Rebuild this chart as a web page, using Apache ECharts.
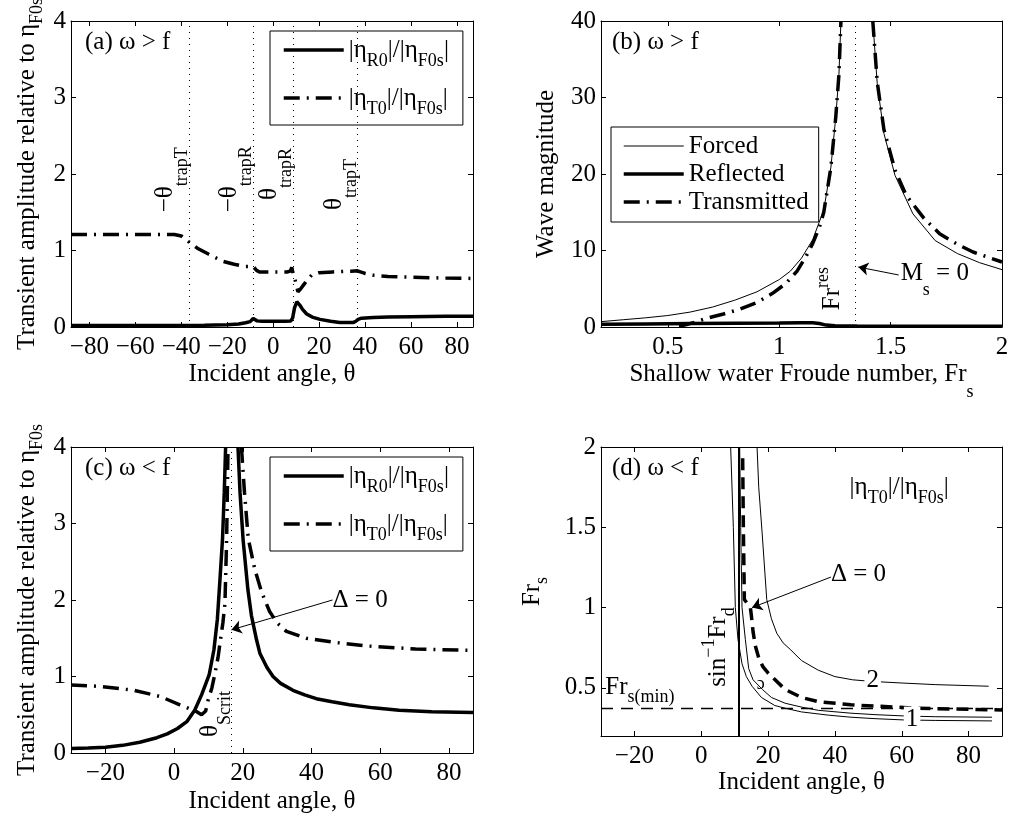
<!DOCTYPE html>
<html><head><meta charset="utf-8">
<script src="https://cdn.jsdelivr.net/npm/echarts@6/dist/echarts.min.js"></script>
<style>html,body{margin:0;padding:0;background:#fff}#c{width:1010px;height:822px}</style>
</head><body><div id="c"></div>
<script>
// ---------- Panel (a) ----------
const aAngR = [-88,-60,-40,-30,-20,-15,-12,-10,-9.2,-8.7,-8.0,-7.0,-5,0,5,7.7,8.5,9.3,10.3,11.5,12.8,14.6,17,20.4,25,29,33,35,36,37,38.5,43.6,50,60,75,87];
const aR    = [0.02,0.02,0.02,0.022,0.03,0.04,0.055,0.07,0.09,0.11,0.09,0.08,0.075,0.075,0.075,0.08,0.12,0.25,0.33,0.29,0.23,0.17,0.13,0.1,0.075,0.06,0.058,0.06,0.075,0.1,0.115,0.125,0.13,0.135,0.14,0.14];
const aAngT = [-88,-60,-43,-40,-37,-33,-28,-22,-17,-12,-10,-9,-8.2,-7.2,-6,0,6,7.5,8.1,8.7,9.6,10.8,12,13.5,15,16.8,20,26,30,34,36.7,38,40,44,50,60,75,87];
const aT    = [1.21,1.21,1.21,1.19,1.12,1.03,0.95,0.86,0.82,0.79,0.79,0.8,0.78,0.74,0.72,0.72,0.72,0.73,0.78,0.7,0.61,0.46,0.5,0.56,0.62,0.68,0.71,0.72,0.725,0.73,0.735,0.72,0.7,0.675,0.66,0.65,0.64,0.635];
const aTrapLines = [-36.7, -8.7, 8.7, 36.7];
const aTrapLabels = ['−θ|trapT', '−θ|trapR', 'θ|trapR', 'θ|trapT'];
const aTrapLabelY = [1.5, 1.5, 1.66, 1.53];
const aXTicks = [-80,-60,-40,-20,0,20,40,60,80];
const aYTicks = [0,1,2,3,4];

// ---------- Panel (b) ----------
const bFrFL = [0.2,0.3,0.4,0.5,0.6,0.7,0.8,0.9,1.0,1.05,1.1,1.15,1.2,1.232,1.254,1.268,1.277];
const bFL   = [0.7,0.95,1.2,1.5,1.95,2.6,3.5,4.6,6.2,7.3,9.0,11.4,15.3,20.9,27.5,33,40];
const bFrFR = [1.42,1.44,1.47,1.52,1.6,1.7,1.8,1.9,2.0];
const bFR   = [40,31.8,25.3,19.8,14.8,11.3,9.6,8.4,7.5];
const bFrTL = [0.55,0.58,0.62,0.67,0.75,0.82,0.9,0.97,1.03,1.08,1.12,1.15,1.18,1.2,1.232,1.254,1.268,1.277];
const bTL   = [0.1,0.3,0.6,1.1,1.7,2.3,3.2,4.4,5.7,7.3,9.2,10.9,13.0,15.0,20.9,27.5,33,40];
const bFrTR = [1.42,1.44,1.47,1.52,1.57,1.65,1.72,1.8,1.87,1.94,2.0];
const bTR   = [40,32,25.8,20.5,17.2,14.2,12.2,10.8,9.8,9.1,8.5];
const bFrRe = [0.2,0.4,0.6,0.8,1.0,1.1,1.15,1.18,1.21,1.25,1.35,1.5,1.75,2.0];
const bRe   = [0.35,0.4,0.45,0.5,0.52,0.55,0.56,0.45,0.25,0.15,0.12,0.11,0.1,0.1];
const bFrRes = 1.34;
const bXTicks = [0.5,1,1.5,2];
const bYTicks = [0,10,20,30,40];

// ---------- Panel (c) ----------
const cAngRL = [-30,-25,-20,-15,-10,-5,-2,1,3.7,6,8,10.2,11.6,12.6,13.4,14.1,14.6,15.0];
const cRL    = [0.06,0.065,0.075,0.1,0.14,0.2,0.25,0.32,0.41,0.56,0.76,1.02,1.35,1.75,2.3,2.8,3.4,4.0];
const cAngRR = [18.6,19.2,20.1,21.5,22.5,24,25,27,28.8,31,34.6,38,41.4,46,51,58,65.5,75,87];
const cRR    = [4.0,3.4,2.78,2.13,1.8,1.48,1.3,1.12,1.0,0.91,0.82,0.76,0.71,0.67,0.63,0.59,0.56,0.54,0.53];
const cAngTL = [-30,-21.4,-11.8,-4.1,1.7,5,6.6,8,9.2,9.9,11.0,11.9,12.8,13.5,14.2,14.8,15.3,15.7];
const cTL    = [0.89,0.87,0.82,0.74,0.63,0.57,0.54,0.5,0.55,0.69,0.85,1.04,1.25,1.48,1.7,1.95,2.8,4.0];
const cAngTR = [19.6,20.5,21.6,23.5,25.5,27.8,30,32.7,38.5,46.2,55.8,70.3,87];
const cTR    = [4.0,3.4,2.8,2.4,2.1,1.85,1.7,1.59,1.5,1.45,1.4,1.36,1.34];
const cScrit = 16.7;
const cXTicks = [-20,0,20,40,60,80];
const cYTicks = [0,1,2,3,4];

// ---------- Panel (d) ----------
const dAng1a = [8.8,9.6,10.2,11.0,12.2,13.5,15.2,18,22,25.1,30,38,44.8,52,60.6,70,87];
const d1a    = [2.0,1.5,1.0,0.8,0.65,0.57,0.51,0.44,0.39,0.373,0.35,0.33,0.317,0.308,0.30,0.297,0.294];
const dAng1b = [11.5,11.8,12.2,13.2,14.2,15.5,18.3,21,25.1,30,35,44.8,52,60.6,70,87];
const d1b    = [2.0,1.5,1.0,0.8,0.62,0.55,0.49,0.44,0.404,0.38,0.36,0.342,0.333,0.325,0.32,0.317];
const dAng2  = [16.7,17.2,18.2,19.6,21,22.6,24.5,26.6,30,35,40,45.3,51,60.1,70,86];
const d2     = [2.0,1.75,1.47,1.05,0.93,0.84,0.78,0.74,0.67,0.61,0.57,0.55,0.54,0.53,0.52,0.51];
const dAngD  = [12.4,12.6,12.9,14.7,15.0,15.5,16.2,17.3,18.5,20.1,25.1,30,35,44.8,64.6,90];
const dD     = [1.93,1.5,1.05,1.0,0.95,0.85,0.76,0.68,0.63,0.59,0.49,0.44,0.414,0.394,0.373,0.362];
const dThetaD = 11.1;
const dFrMin = 0.367;
const dXTicks = [-20,0,20,40,60,80];
const dYTicks = [0.5,1,1.5,2];

// ---------- helpers ----------
const FONT = 'Liberation Serif';
const FS = 25, SFS = 18;
const zip = (xs, ys) => xs.map((x, i) => [x, ys[i]]);
const fmt = v => (v < 0 ? '−' + Math.abs(v) : String(v));
function richE(P) {
  return {
    n: {fontFamily: FONT, fontSize: FS, color: '#000'},
    s: {fontFamily: FONT, fontSize: SFS, color: '#000', padding: [P, 0, 0, 0]},
    p: {fontFamily: FONT, fontSize: SFS, color: '#000', padding: [0, 0, P, 0]}
  };
}
function richZ(P) {
  return {
    n: {fontFamily: FONT, fontSize: FS, fill: '#000'},
    s: {fontFamily: FONT, fontSize: SFS, fill: '#000', padding: [P, 0, 0, 0]},
    p: {fontFamily: FONT, fontSize: SFS, fill: '#000', padding: [0, 0, P, 0]}
  };
}
const THICK = {color: '#000', width: 3.5};
const THIN = {color: '#000', width: 1};
const DASHDOT = {color: '#000', width: 3.5, type: [16, 7, 2, 7]};
const DASH = {color: '#000', width: 3.5, type: [12, 7]};

function line(name, g, xs, ys, ls, extra) {
  return Object.assign({
    type: 'line', name, xAxisIndex: g, yAxisIndex: g, data: zip(xs, ys),
    showSymbol: false, symbol: 'none', lineStyle: ls, itemStyle: {color: '#000'},
    animation: false, silent: true, emphasis: {disabled: true}, z: 3
  }, extra || {});
}
function vline(vals, ls) {
  return {silent: true, symbol: 'none', animation: false, label: {show: false},
    emphasis: {disabled: true}, lineStyle: ls, data: vals};
}
function arrow(from, to) {
  return {silent: true, symbol: ['none', 'arrow'], symbolSize: 10, animation: false,
    label: {show: false}, emphasis: {disabled: true},
    lineStyle: {color: '#000', width: 1, type: 'solid'},
    data: [[{coord: from}, {coord: to}]]};
}

const grids = [
  {left: 71, top: 21, width: 402, height: 306},
  {left: 601, top: 21, width: 401, height: 306},
  {left: 71, top: 447, width: 402, height: 306},
  {left: 601, top: 447, width: 401, height: 289}
].map(g => Object.assign(g, {containLabel: false, outerBoundsMode: 'none'}));

const axisCommon = {
  type: 'value', splitLine: {show: false}, nameMoveOverlap: false,
  axisLine: {show: true, onZero: false, lineStyle: {color: '#000', width: 1}}
};
function mkX(g, min, max, ticks, name, gap, mirror) {
  return Object.assign({}, axisCommon, {
    gridIndex: g, min, max, position: mirror ? 'top' : 'bottom',
    name: mirror ? '' : name, nameLocation: 'middle', nameGap: gap,
    nameTextStyle: {fontFamily: FONT, fontSize: FS, color: '#000', lineHeight: FS, rich: richE(36)},
    axisTick: {show: true, inside: true, length: 5, customValues: ticks, lineStyle: {color: '#000'}},
    axisLabel: {show: !mirror, customValues: ticks, margin: 8, color: '#000', fontFamily: FONT, fontSize: FS, formatter: fmt}
  });
}
function mkY(g, min, max, ticks, name, gap, mirror) {
  return Object.assign({}, axisCommon, {
    gridIndex: g, min, max, position: mirror ? 'right' : 'left',
    name: mirror ? '' : name, nameLocation: 'middle', nameGap: gap,
    nameTextStyle: {fontFamily: FONT, fontSize: FS, color: '#000', lineHeight: FS, rich: richE(20)},
    axisTick: {show: true, inside: true, length: 5, customValues: ticks, lineStyle: {color: '#000'}},
    axisLabel: {show: !mirror, customValues: ticks, margin: 5, color: '#000', fontFamily: FONT, fontSize: FS, formatter: fmt}
  });
}
const X_THETA = '{n|Incident angle, θ}';
const Y_TRANS = '{n|Transient amplitude relative to η}{s|F0s}';
const xDefs = [
  [0, -88, 87, aXTicks, X_THETA, 35],
  [1, 0.2, 2, bXTicks, '{n|Shallow water Froude number, Fr}{s|s}', 35],
  [2, -30, 87, cXTicks, X_THETA, 36],
  [3, -30, 90, dXTicks, X_THETA, 34]
];
const yDefs = [
  [0, 0, 4, aYTicks, Y_TRANS, 31],
  [1, 0, 40, bYTicks, '{n|Wave magnitude}', 42],
  [2, 0, 4, cYTicks, Y_TRANS, 31],
  [3, 0.2, 2, dYTicks, '{n|Fr}{s|s}', 56]
];
const xAxis = xDefs.map(d => mkX(...d, false)).concat(xDefs.map(d => mkX(...d, true)));
const yAxis = yDefs.map(d => mkY(...d, false)).concat(yDefs.map(d => mkY(...d, true)));

const ETA_R = '{n||η}{s|R0}{n||/|η}{s|F0s}{n||}';
const ETA_T = '{n||η}{s|T0}{n||/|η}{s|F0s}{n||}';
const LEG = {Ra: ETA_R, Ta: ETA_T, Rc: ETA_R, Tc: ETA_T, Forced: 'Forced', Reflected: 'Reflected', Transmitted: 'Transmitted'};
const legItem = (name, ls) => ({name, lineStyle: Object.assign({}, ls), itemStyle: {opacity: 0, color: 'transparent'}});
function legendEta(left, top, rN, tN) {
  return {
    orient: 'vertical', left, top, itemWidth: 60, itemHeight: 14, itemGap: 13,
    padding: [4, 14, 7, 12], borderColor: '#000', borderWidth: 1, backgroundColor: '#fff',
    selectedMode: false, formatter: n => LEG[n],
    textStyle: {fontFamily: FONT, fontSize: FS, color: '#000', lineHeight: 30, rich: richE(22)},
    data: [legItem(rN, THICK), legItem(tN, DASHDOT)]
  };
}
const legends = [
  legendEta(270, 31, 'Ra', 'Ta'),
  {
    orient: 'vertical', left: 611, top: 127, itemWidth: 60, itemHeight: 14, itemGap: 0,
    padding: [5, 10, 6, 11], borderColor: '#000', borderWidth: 1, backgroundColor: '#fff',
    selectedMode: false, formatter: n => LEG[n],
    textStyle: {fontFamily: FONT, fontSize: FS, color: '#000', lineHeight: 28},
    data: [legItem('Forced', THIN), legItem('Reflected', THICK), legItem('Transmitted', DASHDOT)]
  },
  legendEta(270, 457, 'Rc', 'Tc')
];

const series = [
  // (a)
  line('Ra', 0, aAngR, aR, THICK, {markLine: vline(aTrapLines.map(v => ({xAxis: v})), {color: '#000', width: 1, type: [1, 5]})}),
  line('Ta', 0, aAngT, aT, DASHDOT),
  // (b)
  line('Forced', 1, bFrFL, bFL, THIN, {markLine: vline([{xAxis: bFrRes}], {color: '#000', width: 1, type: [1, 5]})}),
  line('Forced', 1, bFrFR, bFR, THIN),
  line('Reflected', 1, bFrRe, bRe, THICK),
  line('Transmitted', 1, bFrTL, bTL, DASHDOT, {markLine: arrow([1.536, 6.8], [1.355, 7.84])}),
  line('Transmitted', 1, bFrTR, bTR, DASHDOT),
  // (c)
  line('Rc', 2, cAngRL, cRL, THICK, {markLine: vline([{xAxis: cScrit}], {color: '#000', width: 1, type: [1, 5]})}),
  line('Rc', 2, cAngRR, cRR, THICK),
  line('Tc', 2, cAngTL, cTL, DASHDOT, {markLine: arrow([46.1, 2.0], [16.7, 1.61])}),
  line('Tc', 2, cAngTR, cTR, DASHDOT),
  // (d)
  line('c1a', 3, dAng1a, d1a, THIN, {markLine: vline([{xAxis: dThetaD}], {color: '#000', width: 2, type: 'solid'})}),
  line('c1b', 3, dAng1b, d1b, THIN, {markLine: vline([{yAxis: dFrMin}], {color: '#000', width: 1.3, type: [12, 8]})}),
  line('c2', 3, dAng2, d2, THIN),
  line('delta', 3, dAngD, dD, DASH, {markLine: arrow([38.8, 1.19], [15.2, 1.0])})
];

const chart = echarts.init(document.getElementById('c'), null, {renderer: 'canvas'});
chart.setOption({
  animation: false, backgroundColor: '#fff',
  grid: grids, xAxis, yAxis, legend: legends, series
});

// ---------- annotations (positioned through the axes) ----------
const P = (g, x, y) => chart.convertToPixel({xAxisIndex: g, yAxisIndex: g}, [x, y]);
function gtext(pos, text, o) {
  o = o || {};
  const el = {
    type: 'text', x: pos[0] + (o.dx || 0), y: pos[1] + (o.dy || 0), z: 100, silent: true,
    style: {text, fontFamily: FONT, fontSize: o.fs || FS, fill: '#000', lineHeight: o.lh || FS,
      rich: o.rich || richZ(20), align: o.align || 'left', verticalAlign: o.va || 'middle'}
  };
  if (o.bg) { el.style.backgroundColor = o.bg; el.style.padding = o.pad || [0, 2, 0, 2]; }
  if (o.rot) el.rotation = o.rot;
  return el;
}
const R90 = Math.PI / 2;
const g = [];
// panel labels
const corner = [P(0, -88, 4), P(1, 0.2, 40), P(2, -30, 4), P(3, -30, 2)];
['(a) ω > f', '(b) ω > f', '(c) ω < f', '(d) ω < f'].forEach((t, i) => {
  g.push(gtext(corner[i], '{n|' + t + '}', {dx: i % 2 ? 11 : 14, dy: 21}));
});
// (a) trapping angles
aTrapLines.forEach((v, i) => {
  const [m, s] = aTrapLabels[i].split('|');
  g.push(gtext(P(0, v, aTrapLabelY[i]), '{n|' + m + '}{s|' + s + '}',
    {dx: -11, rot: R90, va: 'bottom', rich: richZ(34)}));
});
// (b)
g.push(gtext(P(1, bFrRes, 2.2), '{n|Fr}{p|res}', {dx: -10.5, rot: R90, va: 'bottom', rich: richZ(18)}));
g.push(gtext(P(1, 1.545, 7.06), '{n|M}{s|s}{n| = 0}', {rich: richZ(34)}));
// (c)
g.push(gtext(P(2, cScrit, 0.21), '{n|θ}{s|Scrit}', {dx: -9, rot: R90, va: 'bottom', rich: richZ(30)}));
g.push(gtext(P(2, 46.1, 2.0), '{n|Δ = 0}'));
// (d)
g.push(gtext(P(3, 38.8, 1.206), '{n|Δ = 0}'));
g.push(gtext(P(3, 44.4, 1.75), '{n||η}{s|T0}{n||/|η}{s|F0s}{n||}', {rich: richZ(22)}));
g.push(gtext(P(3, -28.7, 0.5), '{n|Fr}{s|s(min)}', {rich: richZ(18)}));
g.push(gtext(P(3, dThetaD, 0.506), '{n|sin}{p|−1}{n|Fr}{s|d}', {dx: -7, rot: R90, va: 'bottom', rich: richZ(20)}));
g.push(gtext(P(3, 51.3, 0.544), '{n|2}', {align: 'center', bg: '#fff'}));
g.push(gtext(P(3, 63.1, 0.305), '{n|1}', {align: 'center', bg: '#fff'}));
g.push(gtext(P(3, 17.8, 0.525), '{n|ɔ}', {align: 'center', rich: {n: {fontFamily: FONT, fontSize: 18, fill: '#000'}}}));
chart.setOption({graphic: g});
</script></body></html>
